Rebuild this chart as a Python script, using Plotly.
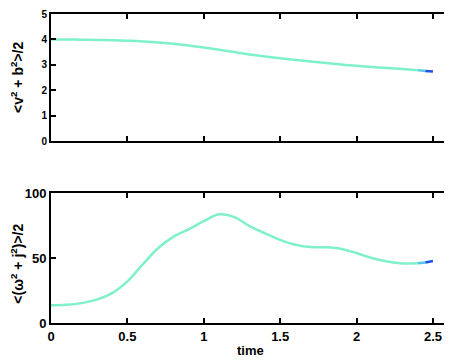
import plotly.graph_objects as go

time = [0.0, 0.1, 0.2, 0.3, 0.4, 0.5, 0.6, 0.7, 0.8, 0.9, 1.0, 1.1, 1.2, 1.3,
        1.4, 1.5, 1.6, 1.7, 1.8, 1.9, 2.0, 2.1, 2.2, 2.3, 2.4, 2.45, 2.5]
energy = [4.00, 4.00, 3.99, 3.98, 3.97, 3.95, 3.92, 3.88, 3.83, 3.76, 3.68,
          3.59, 3.50, 3.41, 3.33, 3.26, 3.19, 3.13, 3.07, 3.01, 2.96, 2.91,
          2.87, 2.83, 2.79, 2.76, 2.74]
enstrophy = [13.6, 14.0, 15.3, 18.0, 23.0, 32.0, 45.0, 57.5, 66.3, 72.0, 78.3,
             83.6, 81.5, 74.5, 69.0, 64.0, 60.2, 58.4, 58.2, 57.0, 53.8, 50.0,
             47.3, 45.8, 45.9, 46.6, 47.7]

main_color = "#7ff0cc"
tail_colors = ["#55c8e6", "#2050e0"]
tail_start = 24

fig = go.Figure()
for vals, ax in [(energy, ("x", "y")), (enstrophy, ("x2", "y2"))]:
    fig.add_trace(go.Scatter(x=time[:tail_start + 1], y=vals[:tail_start + 1],
                             mode="lines", line=dict(color=main_color, width=2.5, shape="spline"),
                             xaxis=ax[0], yaxis=ax[1], showlegend=False))
    for k, c in enumerate(tail_colors):
        i = tail_start + k
        fig.add_trace(go.Scatter(x=time[i:i + 2], y=vals[i:i + 2], mode="lines",
                                 line=dict(color=c, width=2.5),
                                 xaxis=ax[0], yaxis=ax[1], showlegend=False))

font_bold = dict(family="Liberation Sans, Arial, sans-serif", color="black", weight="bold")
common = dict(showline=True, linecolor="black", linewidth=2, mirror="ticks",
              ticks="inside", ticklen=5, tickwidth=1.5, tickcolor="black",
              showgrid=False, zeroline=False, automargin=False,
              ticklabeloverflow="allow")

fig.update_layout(
    width=444, height=352,
    margin=dict(l=43, r=3, t=6, b=37, autoexpand=False),
    plot_bgcolor="white", paper_bgcolor="white",
    xaxis=dict(domain=[0, 1], anchor="y", range=[0, 2.605], tickvals=[0, 0.5, 1, 1.5, 2, 2.5],
               showticklabels=False, **common),
    yaxis=dict(domain=[0.589, 1], anchor="x", range=[0, 5], tickvals=[0, 1, 2, 3, 4, 5],
               tickfont=dict(size=10, **font_bold), **common),
    xaxis2=dict(domain=[0, 1], anchor="y2", range=[0, 2.605], tickvals=[0, 0.5, 1, 1.5, 2, 2.5],
                ticktext=["0", "0.5", "1", "1.5", "2", "2.5"],
                tickfont=dict(size=13, **font_bold), **common),
    yaxis2=dict(domain=[0, 0.4207], anchor="x2", range=[0, 100], tickvals=[0, 50, 100],
                tickfont=dict(size=13, **font_bold), **common),
    annotations=[
        dict(text="<b>&lt;v<sup>2</sup> + b<sup>2</sup>&gt;/2</b>", textangle=-90,
             xref="paper", yref="paper", x=-0.0854, y=0.793, showarrow=False,
             xanchor="center", yanchor="middle", font=dict(size=14, **font_bold)),
        dict(text="<b>&lt;(ω<sup>2</sup> + j<sup>2</sup>)&gt;/2</b>", textangle=-90,
             xref="paper", yref="paper", x=-0.0854, y=0.192, showarrow=False,
             xanchor="center", yanchor="middle", font=dict(size=14, **font_bold)),
        dict(text="<b>time</b>", xref="paper", yref="paper", x=0.5, y=-0.0874,
             showarrow=False, xanchor="center", yanchor="middle",
             font=dict(size=13, **font_bold)),
    ],
)

fig.write_html("out.html")
